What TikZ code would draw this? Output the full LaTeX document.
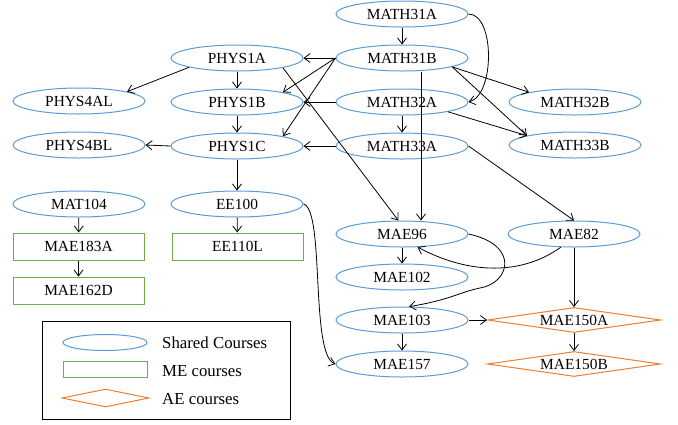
\documentclass[tikz,border=0pt]{standalone}
\usepackage{fontspec}
\setmainfont{Liberation Serif}
\usetikzlibrary{shapes.geometric,arrows.meta}
\definecolor{sharedcol}{HTML}{5B9BD5}
\definecolor{mecol}{HTML}{70AD47}
\definecolor{aecol}{HTML}{ED7D31}
\begin{document}
\begin{tikzpicture}[x=1pt,y=-1pt,
  nodefont/.style={font=\fontsize{15.4}{17}\selectfont},
  course/.style={ellipse,draw=sharedcol,line width=1pt,minimum width=132pt,minimum height=26pt,inner sep=0pt,nodefont},
  mecourse/.style={rectangle,draw=mecol,line width=1pt,minimum width=131pt,minimum height=27pt,inner sep=0pt,nodefont},
  aecourse/.style={diamond,aspect=7,draw=aecol,line width=1pt,minimum width=173pt,minimum height=25pt,inner sep=0pt,nodefont},
  edge/.style={draw=black,line width=0.8pt,-{Straight Barb[length=6pt,width=9pt]}},
  legtext/.style={anchor=west,inner sep=0pt,font=\fontsize{16.8}{18}\selectfont}]
\useasboundingbox (0,0) rectangle (678,424);

% nodes
\node[course] (M31A) at (402,14) {MATH31A};
\node[course] (M31B) at (402,58) {MATH31B};
\node[course] (M32A) at (402,102) {MATH32A};
\node[course] (M33A) at (402,146) {MATH33A};
\node[course] (P1A) at (237,58) {PHYS1A};
\node[course] (P1B) at (237,102) {PHYS1B};
\node[course] (P1C) at (237,146) {PHYS1C};
\node[course] (P4AL) at (79,101) {PHYS4AL};
\node[course] (P4BL) at (79,145) {PHYS4BL};
\node[course] (MAT104) at (79,204) {MAT104};
\node[course] (EE100) at (237,204) {EE100};
\node[mecourse] (MAE183A) at (78.5,246.5) {MAE183A};
\node[mecourse] (MAE162D) at (78.5,290.5) {MAE162D};
\node[mecourse] (EE110L) at (237.5,246.5) {EE110L};
\node[course] (M32B) at (575,102) {MATH32B};
\node[course] (M33B) at (575,145) {MATH33B};
\node[course] (MAE96) at (402,234) {MAE96};
\node[course] (MAE82) at (574,234) {MAE82};
\node[course] (MAE102) at (402,277) {MAE102};
\node[course] (MAE103) at (402,320) {MAE103};
\node[course] (MAE157) at (402,364) {MAE157};
\node[aecourse] (MAE150A) at (574,320) {MAE150A};
\node[aecourse] (MAE150B) at (574,364) {MAE150B};

% edges
\draw[edge] (M31A) -- (M31B);
\draw[edge] (M31A.east) .. controls (495,14) and (495,95) .. (M32A.east);
\draw[edge] (M31B.west) -- (P1A.east);
\draw[edge] (M31B.west) -- (P1B.12);
\draw[edge] (M31B.west) -- (P1C.12);
\draw[edge] ([xshift=19pt]M31B.south) -- ([xshift=19pt]MAE96.north);
\draw[edge] (M31B.-10) -- (M32B.168);
\draw[edge] (M31B.-10) -- (M33B.169);
\draw[edge] (M32A.west) -- (P1B.east);
\draw[edge] (M32A) -- (M33A);
\draw[edge] (M32A.-12) -- (M33B.169);
\draw[edge] (M33A.west) -- (P1C.east);
\draw[edge] (M33A.east) -- (MAE82.north);
\draw[edge] (P1A.191) -- (P4AL.11);
\draw[edge] (P1A) -- (P1B);
\draw[edge] (P1A.-12) -- (MAE96.105);
\draw[edge] (P1B) -- (P1C);
\draw[edge] (P1C.west) -- (P4BL.east);
\draw[edge] (P1C) -- (EE100);
\draw[edge] (EE100) -- (EE110L);
\draw[edge] (EE100.east) .. controls (325,210) and (310,355) .. (MAE157.west);
\draw[edge] (MAT104) -- (MAE183A);
\draw[edge] (MAE183A) -- (MAE162D);
\draw[edge] (MAE96) -- (MAE102);
\draw[edge] (MAE96.east) .. controls (520,245) and (510,283) .. (480,288) .. controls (460,292) and (450,300) .. (MAE103.62);
\draw[edge] (MAE82.225) .. controls (522,275) and (470,275) .. (MAE96.-40);
\draw[edge] (MAE82) -- (MAE150A);
\draw[edge] (MAE103.east) -- (MAE150A.west);
\draw[edge] (MAE103) -- (MAE157);
\draw[edge] (MAE150A) -- (MAE150B);

% legend
\draw[line width=0.9pt] (42,321) rectangle (290,419);
\node[course,minimum width=84pt,minimum height=16pt] (legS) at (105,342.5) {};
\node[mecourse,minimum width=84pt,minimum height=16pt] (legM) at (105,369.5) {};
\node[aecourse,minimum width=87pt,minimum height=18pt] (legA) at (105.5,398) {};
\node[legtext] (legSt) at (162,343) {Shared Courses};
\node[legtext] (legMt) at (162,371) {ME courses};
\node[legtext] (legAt) at (162,399) {AE courses};
\end{tikzpicture}
\end{document}
